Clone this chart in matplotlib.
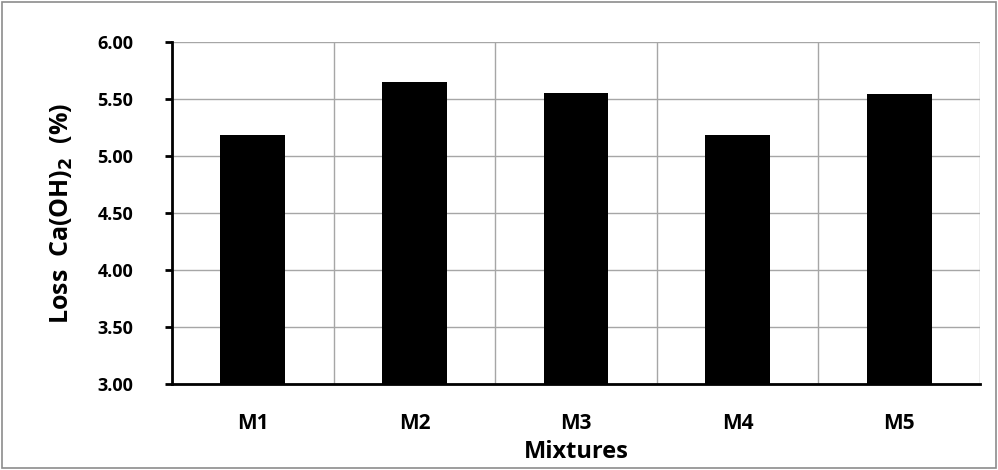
import numpy as np
import matplotlib.pyplot as plt
from matplotlib.patches import Rectangle

mixtures = ["M1", "M2", "M3", "M4", "M5"]
loss_caoh2 = [5.18, 5.65, 5.55, 5.18, 5.54]
y_ticks = [3.00, 3.50, 4.00, 4.50, 5.00, 5.50, 6.00]

plt.rcParams['font.family'] = ['Open Sans', 'DejaVu Sans']

fig = plt.figure(figsize=(9.98, 4.70), dpi=100)
# plot area in pixels: x 172..980, y 42..384
ax = fig.add_axes([172 / 998, 1 - 384 / 470, 808 / 998, 342 / 470])

x = np.arange(len(mixtures))
ax.bar(x, np.array(loss_caoh2) - 3.0, bottom=3.0, width=0.4, color='black', zorder=3)

ax.set_xlim(-0.5, len(mixtures) - 0.5)
ax.set_ylim(3.0, 6.0)
ax.set_yticks(y_ticks)
ax.set_yticklabels([f"{v:.2f}" for v in y_ticks], fontsize=13, fontweight='bold')
ax.set_xticks(x)
ax.set_xticklabels(mixtures, fontsize=15, fontweight='bold')
ax.set_xticks(np.arange(len(mixtures) + 1) - 0.5, minor=True)

# gridlines: horizontal on values, vertical on category boundaries
ax.grid(axis='y', which='major', color='#a6a6a6', linewidth=1, zorder=0)
ax.grid(axis='x', which='minor', color='#a6a6a6', linewidth=1, zorder=0)
ax.set_axisbelow(True)

ax.tick_params(axis='y', direction='out', length=5, width=2, pad=23)
ax.tick_params(axis='x', which='both', length=0, pad=21)

for s in ['top', 'right']:
    ax.spines[s].set_visible(False)
ax.spines['left'].set_linewidth(2)
ax.spines['bottom'].set_linewidth(2)

ax.set_ylabel("Loss  Ca(OH)$_\\mathbf{2}$  (%)", fontsize=18, fontweight='bold', labelpad=16)
ax.set_xlabel("Mixtures", fontsize=17, fontweight='bold', labelpad=4)

# outer chart border
fig.patches.append(Rectangle((2 / 998, 2 / 470), 994 / 998, 466 / 470, transform=fig.transFigure,
                             fill=False, edgecolor='#8c8c8c', linewidth=1.2))

fig.savefig("out.png", dpi=100)
